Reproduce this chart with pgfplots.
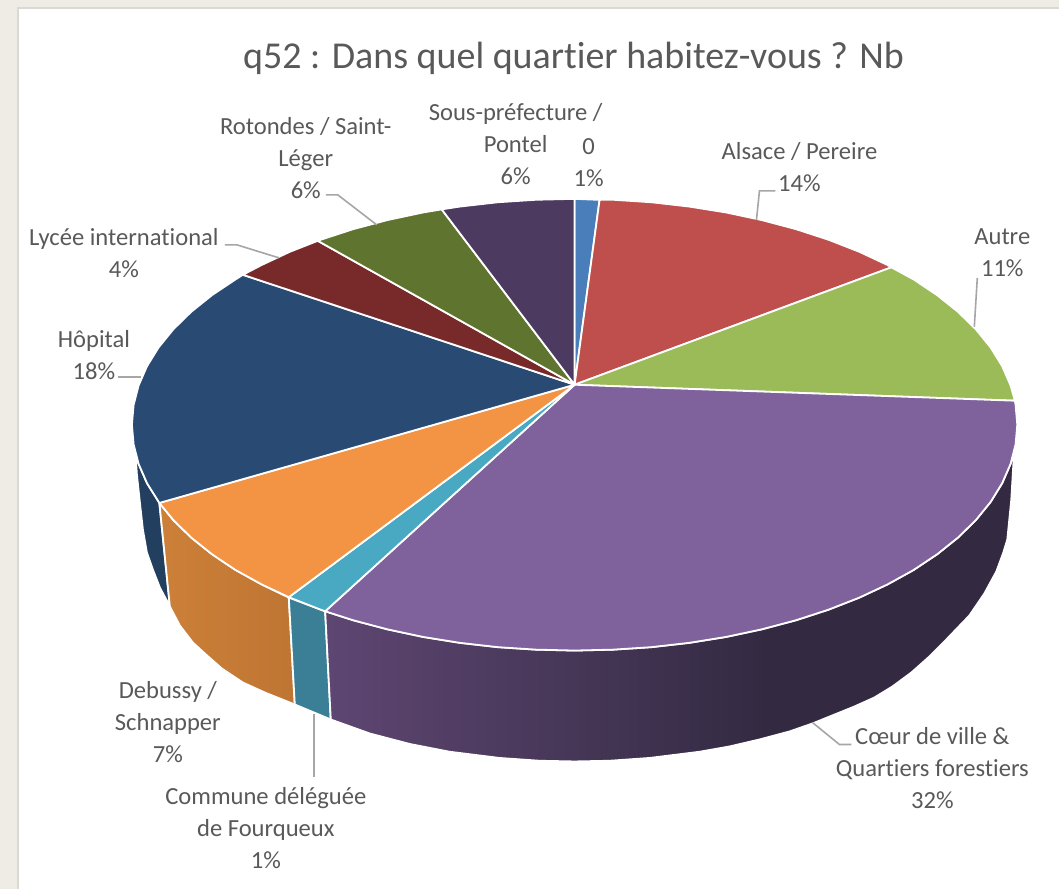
\documentclass[border=0pt]{standalone}
\usepackage{fontspec}
\setmainfont[RawFeature={-liga;-clig}]{Carlito}
\usepackage{pgfplots}
\pgfplotsset{compat=1.18}

\definecolor{pageback}{HTML}{EEECE5}
\definecolor{frameline}{HTML}{DAD9D4}
\definecolor{txt}{HTML}{595959}
\definecolor{leader}{HTML}{A6A6A6}
\definecolor{cBlue}{HTML}{4A7EBB}
\definecolor{cRed}{HTML}{BE4F4C}
\definecolor{cGreen}{HTML}{9BBB59}
\definecolor{cPurple}{HTML}{7F619C}
\definecolor{cTeal}{HTML}{4AA9C2}
\definecolor{cOrange}{HTML}{F39445}
\definecolor{cNavy}{HTML}{294A73}
\definecolor{cMaroon}{HTML}{772A29}
\definecolor{cOlive}{HTML}{5F752F}
\definecolor{cPlum}{HTML}{4D3A60}
\definecolor{sNavy}{HTML}{233F60}
\definecolor{sTeal}{HTML}{3A7F96}
\definecolor{sOrangeA}{HTML}{CC8038}
\definecolor{sOrangeB}{HTML}{BF7533}
\definecolor{sPlumA}{HTML}{5E4672}
\definecolor{sPlumB}{HTML}{332A42}

\pgfdeclarehorizontalshading{plumside}{100bp}{color(0bp)=(sPlumA);color(25bp)=(sPlumA);color(57bp)=(sPlumB);color(100bp)=(sPlumB)}

\tikzset{
  slice/.style={draw=white, line width=1.8pt, line join=round},
  lab/.style={text=txt, align=center, inner sep=0pt, font=\fontsize{24.6}{32}\selectfont},
  lead/.style={draw=leader, line width=1.6pt},
}

\begin{document}
\begin{tikzpicture}
\begin{axis}[
  hide axis,
  scale only axis,
  width=1060pt, height=890pt,
  xmin=0, xmax=1060, ymin=0, ymax=890,
  y dir=reverse,
  clip=false,
]
% page and chart area
\addplot[fill=pageback, draw=none] coordinates {(0,0)(1060,0)(1060,890)(0,890)} --cycle;
\addplot[fill=white, draw=none] coordinates {(18,8)(1060,8)(1060,890)(18,890)} --cycle;
\addplot[draw=frameline, line width=1.5pt] coordinates {(18,890)(18,8)(1060,8)};

% side walls
\addplot[slice, fill=sNavy] coordinates {(135.5,453)(138.7,464.2)(147.1,483.5)(159.5,503.3)(170,607)(168,603)(160,588)(153,570)(147,553)(143,530)(140,503)(137,475)} --cycle;
\addplot[slice, left color=sOrangeA, right color=sOrangeB] coordinates {(289,598)(261.8,584.8)(235.6,570.3)(212.1,554.6)(191.4,538)(173.5,520.5)(159.5,503.3)(170,607)(180,626)(193,643)(205,654)(222,669)(243,683)(265,693)(295,705)} --cycle;
\addplot[slice, fill=sTeal] coordinates {(325.4,611.7)(289,598)(295,705)(331,720)} --cycle;
\addplot[slice, shading=plumside] coordinates {(325.4,611.7)(353.5,620.7)(387.8,629.8)(423.5,637.4)(460.3,643.3)(498.1,647.6)(536.4,650.1)(575,651)(613.6,650.1)(651.9,647.6)(689.7,643.3)(726.5,637.4)(762.2,629.8)(796.5,620.7)(829.1,610.1)(859.8,598.1)(888.2,584.8)(914.4,570.3)(937.9,554.6)(958.6,538)(976.5,520.5)(991.3,502.3)(1002.9,483.5)(1011.3,464.2)(1014.8,452)(1012,500)(1008,540)(1004,553)(997,572)(985,594)(970,616)(945,642)(930,657)(912,673)(893,687)(875,698)(855,707)(813,724)(790,732)(760,740)(730,747)(700,752.3)(650,758.5)(610,761.3)(575,762)(540,761.3)(500,758.5)(450,752.3)(410,744.5)(370,734)(331,720)} --cycle;

% top face
\addplot[slice, fill=cBlue] coordinates {(575,385)(575,199)(600,200)} --cycle;
\addplot[slice, fill=cRed] coordinates {(575,385)(600,200)(613.6,199.9)(651.9,202.4)(689.7,206.7)(726.5,212.6)(762.2,220.2)(796.5,229.3)(829.1,239.9)(859.8,251.9)(888.2,265.2)(892,267.5)} --cycle;
\addplot[slice, fill=cGreen] coordinates {(575,385)(892,267.5)(914.4,279.7)(937.9,295.4)(958.6,312)(976.5,329.5)(991.3,347.7)(1002.9,366.5)(1011.3,385.8)(1015.6,401)} --cycle;
\addplot[slice, fill=cPurple] coordinates {(575,385)(1015.6,401)(1016.3,405.3)(1018,425)(1016.3,444.7)(1011.3,464.2)(1002.9,483.5)(991.3,502.3)(976.5,520.5)(958.6,538)(937.9,554.6)(914.4,570.3)(888.2,584.8)(859.8,598.1)(829.1,610.1)(796.5,620.7)(762.2,629.8)(726.5,637.4)(689.7,643.3)(651.9,647.6)(613.6,650.1)(575,651)(536.4,650.1)(498.1,647.6)(460.3,643.3)(423.5,637.4)(387.8,629.8)(353.5,620.7)(325.4,611.7)} --cycle;
\addplot[slice, fill=cTeal] coordinates {(575,385)(325.4,611.7)(320.9,610.1)(289,597.6)} --cycle;
\addplot[slice, fill=cOrange] coordinates {(575,385)(289,597.6)(261.8,584.8)(235.6,570.3)(212.1,554.6)(191.4,538)(173.5,520.5)(159.5,503.3)} --cycle;
\addplot[slice, fill=cNavy] coordinates {(575,385)(159.5,503.3)(147.1,483.5)(138.7,464.2)(133.7,444.7)(132,425)(133.7,405.3)(138.7,385.8)(147.1,366.5)(158.7,347.7)(173.5,329.5)(191.4,312)(212.1,295.4)(235.6,279.7)(243,275)} --cycle;
\addplot[slice, fill=cMaroon] coordinates {(575,385)(243,275)(261.8,265.2)(290.2,251.9)(318,241)} --cycle;
\addplot[slice, fill=cOlive] coordinates {(575,385)(318,241)(320.9,239.9)(353.5,229.3)(387.8,220.2)(423.5,212.6)(442,209.5)} --cycle;
\addplot[slice, fill=cPlum] coordinates {(575,385)(442,209.5)(460.3,206.7)(498.1,202.4)(536.4,199.9)(575,199)} --cycle;

% leader lines
\addplot[lead] coordinates {(776,191)(760,191)(757,220)};
\addplot[lead] coordinates {(978,278)(975,327)};
\addplot[lead] coordinates {(813,723)(840,745)(852,745)};
\addplot[lead] coordinates {(314,715)(314,778)};
\addplot[lead] coordinates {(118,377)(141,377)};
\addplot[lead] coordinates {(225,245)(237,245)(279,258)};
\addplot[lead] coordinates {(326,195)(338,195)(377,225)};

% texts
\node[text=txt, inner sep=0pt, font=\fontsize{38}{42}\selectfont] at (axis cs:574,58) {q52 : Dans quel quartier habitez-vous ? Nb};
\node[lab] at (axis cs:516,144) {Sous-préfecture /\\Pontel\\6\%};
\node[lab] at (axis cs:589,163) {0\\1\%};
\node[lab] at (axis cs:800,167) {Alsace / Pereire\\14\%};
\node[lab] at (axis cs:1003,253) {Autre\\11\%};
\node[lab] at (axis cs:306,158) {Rotondes / Saint-\\Léger\\6\%};
\node[lab] at (axis cs:124,253) {Lycée international\\4\%};
\node[lab] at (axis cs:94,355) {Hôpital\\18\%};
\node[lab] at (axis cs:168,723) {Debussy /\\Schnapper\\7\%};
\node[lab] at (axis cs:266,829) {Commune déléguée\\de Fourqueux\\1\%};
\node[lab] at (axis cs:933,769) {Cœur de ville \&\\Quartiers forestiers\\32\%};
\end{axis}
\end{tikzpicture}
\end{document}
